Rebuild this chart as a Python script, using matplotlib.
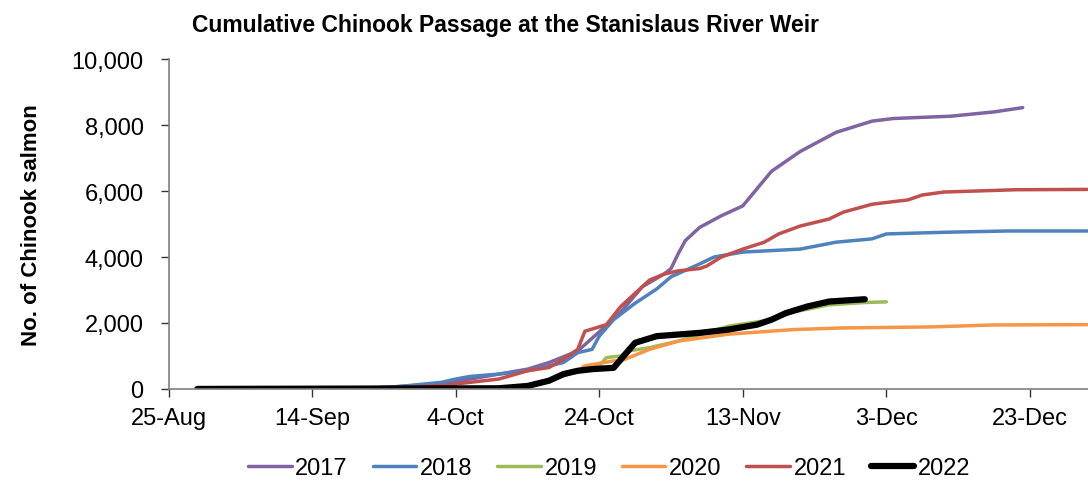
import pandas as pd
import matplotlib
matplotlib.use("Agg")
import matplotlib.pyplot as plt
import matplotlib.dates as mdates

plt.rcParams['font.family'] = ['Liberation Sans', 'DejaVu Sans']

# cumulative passage (month-day, count)
dates_2017 = ["08-29", "09-19", "09-25", "10-02", "10-06", "10-10", "10-14", "10-17", "10-21",
              "10-24", "10-27", "10-30", "11-02", "11-03", "11-04", "11-05", "11-07", "11-10",
              "11-13", "11-17", "11-21", "11-26", "12-01", "12-04", "12-12", "12-18", "12-22"]
vals_2017 = [0, 0, 60, 150, 300, 450, 600, 800, 1150, 1730, 2330, 3100, 3480, 3650, 4100,
             4500, 4900, 5250, 5550, 6600, 7200, 7780, 8120, 8200, 8270, 8400, 8530]

dates_2018 = ["08-29", "09-19", "09-25", "10-02", "10-04", "10-06", "10-10", "10-14", "10-19",
              "10-21", "10-23", "10-24", "10-26", "10-29", "11-01", "11-03", "11-07", "11-09",
              "11-13", "11-21", "11-26", "12-01", "12-03", "12-11", "12-20", "12-31"]
vals_2018 = [0, 0, 50, 200, 300, 380, 450, 550, 800, 1100, 1200, 1600, 2100, 2600, 3030,
             3400, 3790, 4000, 4150, 4240, 4450, 4550, 4700, 4750, 4790, 4790]

dates_2019 = ["08-29", "10-10", "10-14", "10-17", "10-21", "10-24", "10-25", "10-27", "10-28",
              "10-31", "11-04", "11-11", "11-17", "11-20", "11-25", "11-30", "12-03"]
vals_2019 = [0, 20, 80, 250, 550, 700, 950, 1000, 1150, 1250, 1450, 1900, 2100, 2330, 2550,
             2620, 2640]

dates_2020 = ["08-29", "10-10", "10-14", "10-17", "10-21", "10-22", "10-26", "10-27", "10-31",
              "11-04", "11-11", "11-20", "11-27", "12-09", "12-18", "12-31"]
vals_2020 = [0, 20, 80, 250, 550, 700, 850, 850, 1200, 1450, 1660, 1800, 1850, 1880, 1940, 1950]

dates_2021 = ["08-29", "09-22", "10-02", "10-06", "10-10", "10-14", "10-17", "10-19", "10-21",
              "10-22", "10-25", "10-27", "10-31", "11-02", "11-04", "11-07", "11-08", "11-10",
              "11-13", "11-16", "11-18", "11-21", "11-25", "11-27", "12-01", "12-04", "12-06",
              "12-08", "12-11", "12-21", "12-31"]
vals_2021 = [0, 0, 100, 200, 300, 550, 650, 900, 1200, 1750, 1950, 2500, 3300, 3480, 3580,
             3650, 3730, 4000, 4240, 4450, 4700, 4940, 5150, 5360, 5600, 5680, 5730, 5880,
             5970, 6040, 6050]

dates_2022 = ["08-29", "10-10", "10-14", "10-17", "10-19", "10-21", "10-23", "10-26", "10-28",
              "10-29", "11-01", "11-07", "11-11", "11-15", "11-17", "11-19", "11-22", "11-25",
              "11-30"]
vals_2022 = [0, 20, 90, 250, 450, 550, 600, 640, 1150, 1400, 1600, 1700, 1800, 1950, 2100,
             2300, 2500, 2650, 2720]

years = ["2017", "2018", "2019", "2020", "2021", "2022"]
colors = ["#8064A2", "#4F81BD", "#9BBB59", "#F79646", "#C0504D", "#000000"]
widths = [2.5, 2.5, 2.5, 2.5, 2.5, 4.5]

series = [(dates_2017, vals_2017), (dates_2018, vals_2018), (dates_2019, vals_2019),
          (dates_2020, vals_2020), (dates_2021, vals_2021), (dates_2022, vals_2022)]


def to_dates(md):
    # put every season on one common calendar year so they overlay
    return pd.to_datetime(["2001-" + s for s in md])


fig = plt.figure(figsize=(10.88, 4.85), dpi=100)
ax = fig.add_axes([0.155, 0.196, 0.845, 0.68])

for yr, (d, v), c, lw in zip(years, series, colors, widths):
    ax.plot(to_dates(d), v, color=c, lw=lw, label=yr,
            solid_capstyle='round', solid_joinstyle='round')

start = pd.Timestamp("2001-08-25")
ax.set_xlim(start, start + pd.Timedelta(days=128.1))
ax.set_ylim(0, 10000)
ax.set_xticks(pd.date_range(start, periods=7, freq="20D"))
ax.xaxis.set_major_formatter(mdates.DateFormatter("%-d-%b"))
ax.set_yticks(range(0, 10001, 2000))
ax.yaxis.set_major_formatter(matplotlib.ticker.FuncFormatter(lambda v, p: f"{int(v):,}"))

for s in ["top", "right"]:
    ax.spines[s].set_visible(False)
for s in ["left", "bottom"]:
    ax.spines[s].set_color("#7f7f7f")
    ax.spines[s].set_linewidth(1.2)
ax.tick_params(axis="both", labelsize=17, length=6, color="#333333", width=1)
ax.tick_params(axis="y", pad=12)
ax.tick_params(axis="x", pad=7)

ax.set_ylabel("No. of Chinook salmon", fontsize=16, fontweight="bold")
ax.yaxis.set_label_coords(-0.138, 0.5)
fig.text(0.465, 0.948, "Cumulative Chinook Passage at the Stanislaus River Weir",
         fontsize=16.5, fontweight="bold", ha="center", va="center")

fig.legend(loc="center", bbox_to_anchor=(0.56, 0.032), ncol=6, frameon=False,
           fontsize=17, handlelength=1.85, handletextpad=0.15, columnspacing=1.05)

fig.savefig("out.png", dpi=100)
